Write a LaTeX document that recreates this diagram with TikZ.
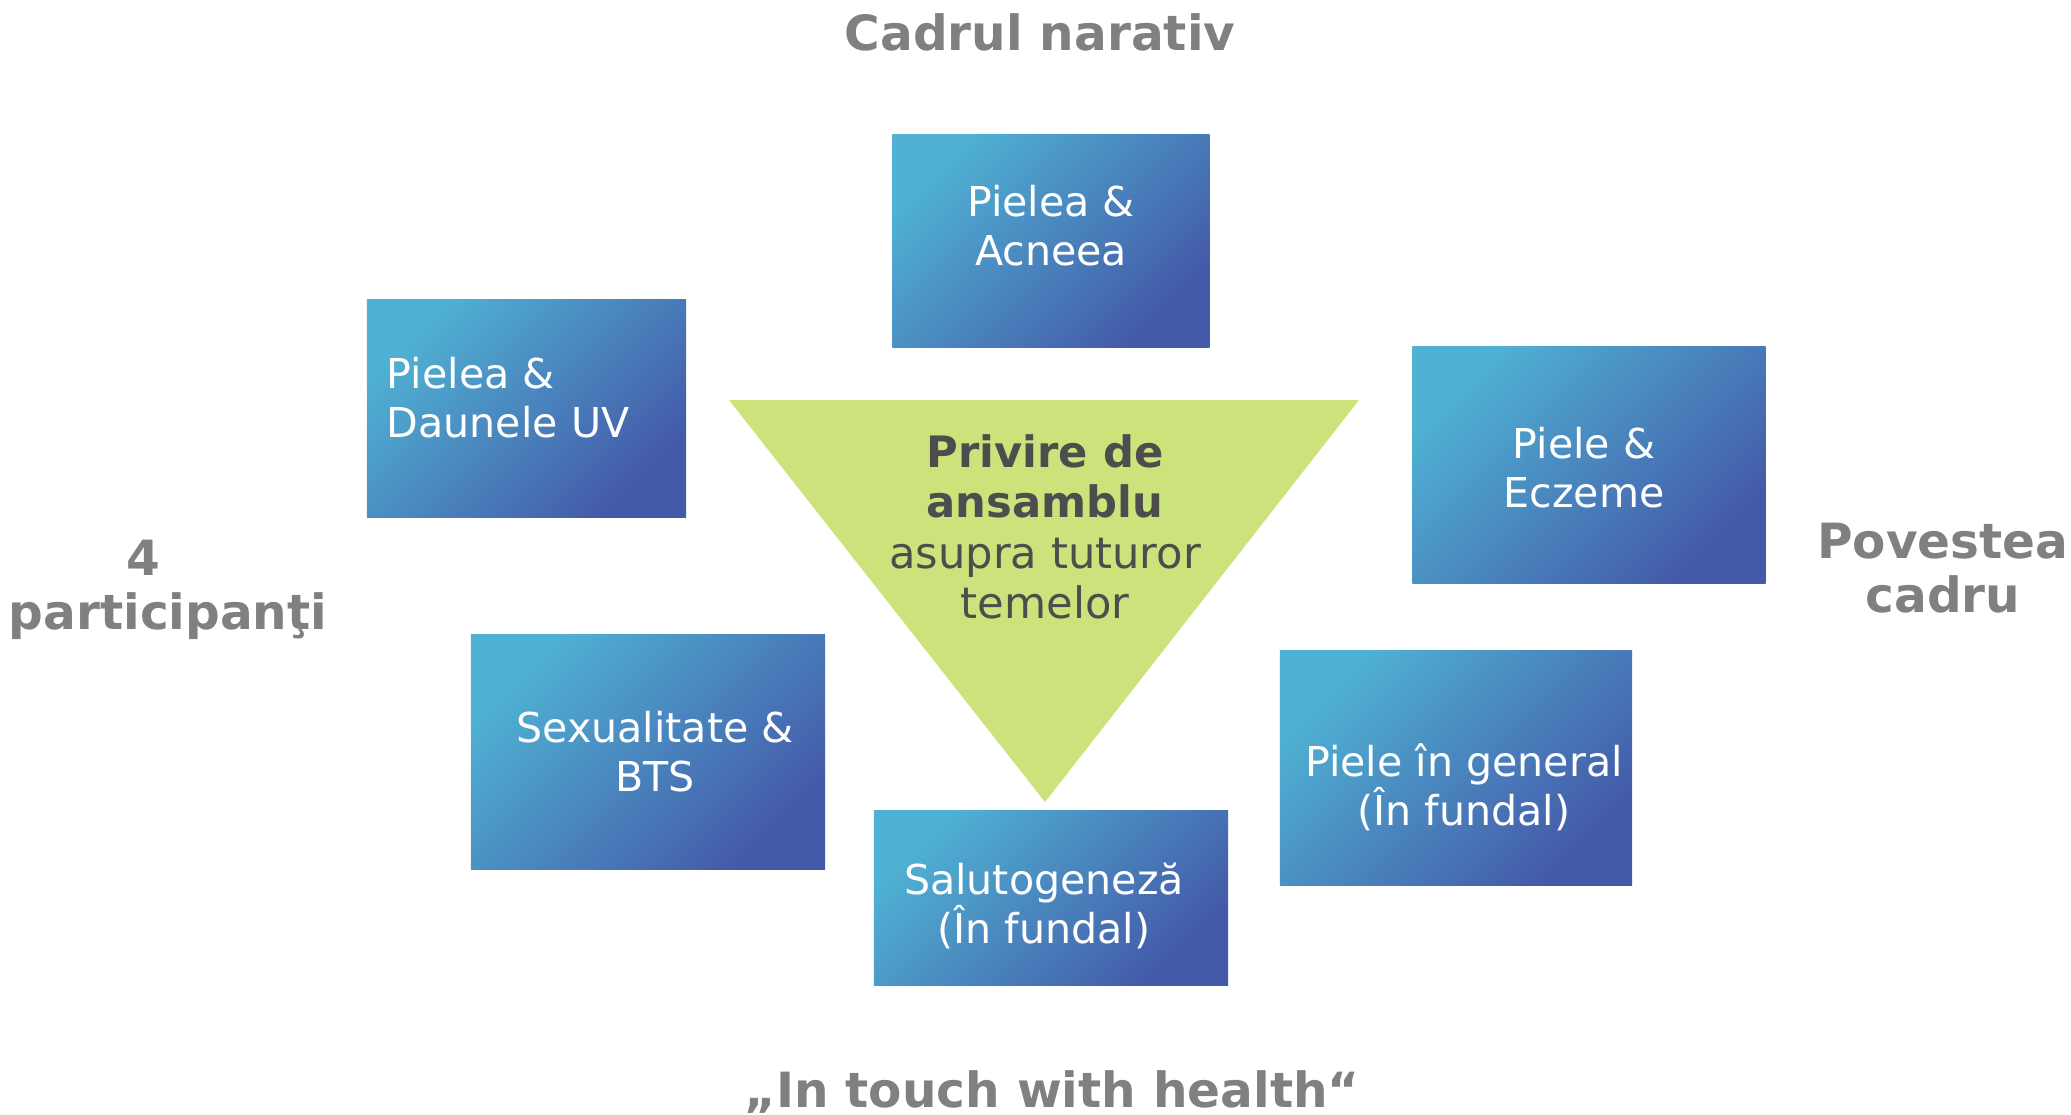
\documentclass[tikz,border=0pt]{standalone}
\usepackage{fontspec}
\setmainfont{DejaVu Sans}
\usepackage{tikz}
\usetikzlibrary{shapes}
\definecolor{boxlight}{HTML}{4FB1D3}
\definecolor{boxdark}{HTML}{4459A8}
\definecolor{trigreen}{HTML}{CBE37A}
\definecolor{labelgray}{HTML}{808080}
\definecolor{textgray}{HTML}{4D4D4D}
\tikzstyle{topic}=[rectangle,inner sep=0pt,top color=boxlight,bottom color=boxdark,shading angle=45]
\tikzstyle{topictext}=[inner sep=0pt,text=white,align=center,font=\fontsize{11.7}{14}\selectfont]
\tikzstyle{frame}=[inner sep=0pt,text=labelgray,align=center,font=\fontsize{13.8}{15.2}\selectfont\bfseries]

\begin{document}
\begin{tikzpicture}[x=0.01cm,y=-0.01cm]
    \useasboundingbox (0,0) rectangle (2071,1114);
    % First we draw the green triangle in the middle
    \coordinate (tl) at (729,400);
    \coordinate (tr) at (1359,400);
    \coordinate (tip) at (1045,802);
    \fill[trigreen] (tl) -- (tr) -- (tip) -- cycle;
    \node[inner sep=0pt,text=textgray,align=center,font=\fontsize{12.3}{14.3}\selectfont] (overview) at (1045,527)
        {\textbf{Privire de}\\\textbf{ansamblu}\\asupra tuturor\\temelor};
    % Then the topic boxes
    \foreach \pos/\name/\w/\h/\dx/\dy/\txt in {{(1051,241)/acne/3.17/2.12/0/0.15/Pielea \&\\Acneea},
        {(1589,465)/eczema/3.53/2.36/-0.05/-0.03/Piele \&\\Eczeme}, {(648,752)/sex/3.54/2.34/0.07/0/Sexualitate \&\\BTS},
        {(1051,898)/saluto/3.54/1.74/-0.07/-0.08/Salutogeneză\\(În fundal)}, {(1456,768)/general/3.52/2.34/0.08/-0.19/Piele în general\\(În fundal)}}
        \node[topic,minimum width=\w cm,minimum height=\h cm,
            label={[topictext,xshift=\dx cm,yshift=\dy cm]center:\txt}] (\name) at \pos {};
    \node[topic,minimum width=3.19cm,minimum height=2.17cm,
        label={[topictext,align=left,anchor=west,xshift=0.2cm,yshift=0.11cm]west:Pielea \&\\Daunele UV}] (uv) at (526.5,408.5) {};
    % Labels round the outside
    \node[frame] (narrative) at (1040,32) {Cadrul narativ};
    \node[frame] (participants) at (168,590) {4\hspace*{0.5cm}\\participanţi};
    \node[frame] (framestory) at (1943,568) {Povestea\\cadru};
    \node[frame] (motto) at (1052,1092) {„In touch with health“};
\end{tikzpicture}
\end{document}
